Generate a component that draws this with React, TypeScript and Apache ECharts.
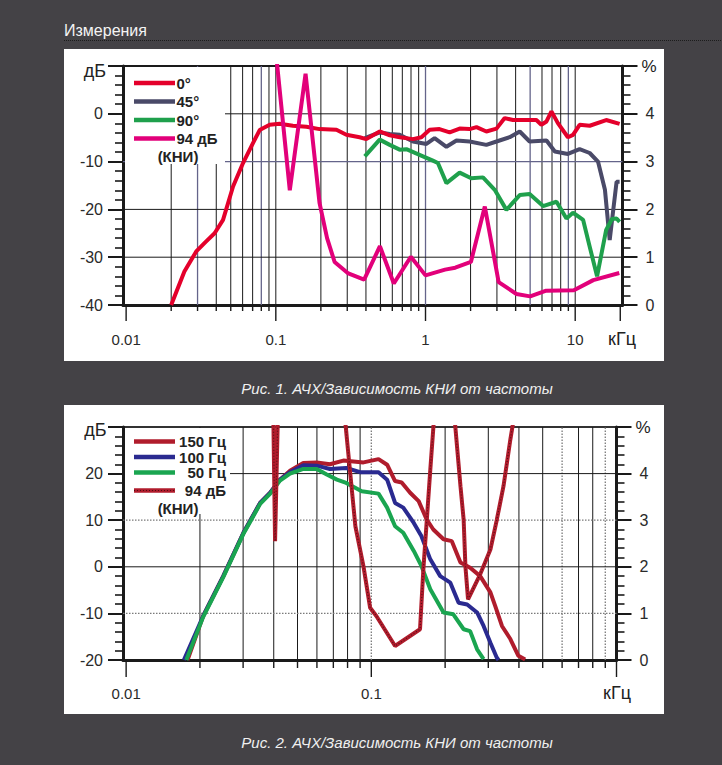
import React, { useEffect, useRef } from 'react';
import * as echarts from 'echarts';

type P = [number, number];

// ---------------- Рис. 1 : frequency [kHz], level [dB] / THD [%] ----------------
const fig1Names = ['0°', '45°', '90°', '94 дБ'];
const fig1Resp0: P[] = [
  [0.02, -40], [0.0245, -33], [0.0294, -28.8], [0.034, -26.8], [0.039, -25], [0.0444, -22.2],
  [0.0518, -15.2], [0.0604, -10.3], [0.0705, -6.1], [0.078, -3.4], [0.091, -2.3], [0.106, -2.1],
  [0.13, -2.5], [0.16, -2.7], [0.196, -3.2], [0.254, -3.35], [0.296, -4.4], [0.363, -4.9],
  [0.402, -5.3], [0.494, -3.7], [0.577, -4.5], [0.672, -4.9], [0.825, -5.3], [0.939, -4.9],
  [1.066, -3.35], [1.24, -3.2], [1.45, -3.9], [1.69, -3.1], [1.97, -3.2], [2.19, -2.8],
  [2.55, -3.7], [2.98, -3.1], [3.38, -0.9], [3.84, -1.3], [4.71, -1.3], [5.5, -1.3],
  [5.94, -2.3], [6.43, -1.6], [6.94, 0.5], [7.66, -1.95], [8.94, -4.9], [9.67, -4.4],
  [10.7, -2.3], [12.5, -2.5], [16.1, -1.3], [19.8, -2.1],
];
const fig1Resp45: P[] = [
  [0.393, -5.1], [0.494, -3.9], [0.577, -4.2], [0.672, -4.4], [0.825, -5.8], [1.014, -6.3],
  [1.15, -5.1], [1.38, -6.9], [1.61, -5.6], [1.97, -5.8], [2.55, -6.5], [2.98, -5.8],
  [3.65, -4.9], [4.26, -3.7], [4.96, -5.8], [6.43, -5.6], [7.31, -7.9], [8.94, -8.4],
  [10.7, -7.4], [12.5, -8.2], [14.2, -10], [15.8, -15.9], [17.0, -26.4], [18.9, -14.2], [19.8, -14.2],
];
const fig1Resp90: P[] = [
  [0.393, -8.9], [0.494, -5.4], [0.577, -6.5], [0.672, -7.5], [0.745, -7.4], [0.962, -8.9],
  [1.12, -9.8], [1.21, -10.3], [1.38, -14.5], [1.69, -12.3], [2.02, -13.5], [2.42, -13.3],
  [2.9, -15.9], [3.47, -20.1], [4.26, -17.0], [4.96, -16.8], [6.1, -19.3], [7.5, -18.4],
  [8.74, -21.9], [9.67, -20.7], [11.3, -22.2], [12.5, -27.8], [14.0, -34], [16.1, -24.3],
  [17.6, -22], [18.9, -21.9], [19.8, -22.6],
];
const fig1Thd: P[] = [
  [0.1, 5.3], [0.124, 2.4], [0.158, 4.84], [0.196, 2.13], [0.22, 1.4], [0.247, 0.9],
  [0.305, 0.66], [0.389, 0.53], [0.496, 1.23], [0.614, 0.45], [0.798, 1.01], [1.0, 0.62],
  [1.35, 0.74], [1.58, 0.78], [2.01, 0.9], [2.49, 2.06], [3.08, 0.48], [4.05, 0.23],
  [5.0, 0.18], [6.4, 0.3], [9.8, 0.31], [13.2, 0.52], [19.7, 0.67],
];
const fig1XLabelValues = [0.01, 0.1, 1, 10];
const fig1XLabels = ['0.01', '0.1', '1', '10'];
const fig1HLines = [0, -10, -20, -30];

// ---------------- Рис. 2 ----------------
const fig2Names = ['150 Гц', '100 Гц', '50 Гц', '94 дБ'];
const fig2Resp150: P[] = [
  [0.0178, -20], [0.0206, -10.6], [0.0249, -2], [0.0301, 7.3], [0.0352, 13.7], [0.0387, 15.9],
  [0.0424, 18.7], [0.0466, 20.6], [0.0528, 22.3], [0.0599, 22.4], [0.0678, 22.0], [0.0769, 22.8],
  [0.0929, 22.4], [0.107, 23.1], [0.116, 21.9], [0.125, 18.4], [0.133, 18.1], [0.144, 15.9],
  [0.156, 14.1], [0.168, 10.2], [0.179, 8.0], [0.197, 5.9], [0.213, 5.5], [0.231, 0.9],
  [0.253, -0.2], [0.278, -2.0], [0.306, -5.5], [0.32, -8.4], [0.341, -12.7], [0.369, -15.5],
  [0.398, -19.1], [0.424, -19.9],
];
const fig2Resp100: P[] = [
  [0.0172, -20], [0.0206, -10.6], [0.0249, -2], [0.0301, 7.3], [0.0352, 13.7], [0.0387, 15.9],
  [0.0424, 18.7], [0.0466, 20.3], [0.0528, 21.8], [0.0599, 21.7], [0.0678, 21.0], [0.079, 21.2],
  [0.09, 20.3], [0.107, 20.3], [0.116, 18.7], [0.125, 13.7], [0.135, 12.7], [0.149, 9.4],
  [0.16, 6.6], [0.174, 1.6], [0.191, -2.0], [0.21, -3.4], [0.227, -7.7], [0.246, -8.1],
  [0.27, -9.8], [0.287, -12.7], [0.306, -16.3], [0.325, -19.5], [0.33, -20],
];
const fig2Resp50: P[] = [
  [0.0176, -20], [0.0206, -10.8], [0.0249, -2.2], [0.0301, 7.1], [0.0352, 13.5], [0.0387, 15.7],
  [0.0424, 18.5], [0.0466, 20.0], [0.0528, 21.0], [0.0599, 21.0], [0.0658, 19.8], [0.0724, 18.7],
  [0.079, 18.0], [0.0914, 16.2], [0.107, 15.7], [0.116, 12.7], [0.125, 8.7], [0.135, 7.3],
  [0.149, 3.4], [0.16, 0.2], [0.174, -4.8], [0.197, -9.8], [0.216, -10.2], [0.238, -13.4],
  [0.253, -13.8], [0.27, -17.7], [0.287, -19.8],
];
const fig2Thd: P[] = [
  [0.0397, 5.8], [0.0405, 2.55], [0.0418, 5.8], [0.06, 6.5], [0.077, 5.5], [0.0861, 2.87],
  [0.0929, 2.01], [0.0989, 1.12], [0.105, 0.94], [0.125, 0.3], [0.158, 0.66], [0.163, 1.94],
  [0.174, 4.08], [0.182, 5.5], [0.2, 6.5], [0.216, 5.5], [0.231, 3.73], [0.238, 3.01],
  [0.242, 2.01], [0.248, 1.3], [0.278, 1.84], [0.306, 2.37], [0.325, 3.01], [0.346, 3.73],
  [0.369, 4.73], [0.39, 5.5],
];
const fig2XLabelValues = [0.01, 0.1];
const fig2XLabels = ['0.01', '0.1'];
const fig2HLines = [20, 10, 0, -10];

const pageTitle = 'Измерения';
const caption1 = 'Рис. 1. АЧХ/Зависимость КНИ от частоты';
const caption2 = 'Рис. 2. АЧХ/Зависимость КНИ от частоты';
const unitX = 'кГц';
const unitDb = 'дБ';
const unitPct = '%';
const thdNote = '(КНИ)';

// ---------------- styling ----------------
const FONT = '"Liberation Sans", Arial, sans-serif';
const BG = '#444246';
const INK = '#1a1a1a';
const C1 = ['#e4002b', '#4a4a68', '#1fa04c', '#e2007a'];
const C2 = ['#b01c2c', '#2a2a90', '#1aa550', '#b01c2c'];

const X1_MIN = 0.00953, X1_MAX = 20.7;
const X2_MIN = 0.00971, X2_MAX = 1.0;

interface VTick { f: number; grid: boolean; long: boolean; label: string; grey: boolean }
const near = (a: number, b: number) => Math.abs(a - b) < 1e-9 * Math.max(1, Math.abs(b));

function makeVTicks(decades: number[], maxF: number, labelVals: number[], labels: string[],
  greyVals: number[], noGridVals: number[], longVals: number[]): VTick[] {
  const out: VTick[] = [];
  for (const d of decades) {
    for (let m = 1; m <= 9; m++) {
      const f = +(d * m).toPrecision(6);
      if (f > maxF * 1.0001) continue;
      const li = labelVals.findIndex((v) => near(v, f));
      out.push({
        f,
        grid: !noGridVals.some((v) => near(v, f)),
        long: m === 1 || longVals.some((v) => near(v, f)),
        label: li >= 0 ? labels[li] : '',
        grey: greyVals.some((v) => near(v, f)),
      });
    }
  }
  return out;
}

function vGridSeries(xi: number, yi: number, ticks: VTick[], yMin: number, yMax: number,
  greyColor: string, greyDash: number[] | undefined, labelDy: number, longLen: number, shortLen: number) {
  return {
    type: 'custom', coordinateSystem: 'cartesian2d', xAxisIndex: xi, yAxisIndex: yi,
    silent: true, z: 1, clip: false,
    data: ticks.map((t) => [t.f, yMin]),
    encode: { x: 0, y: 1 },
    renderItem: (params: any, api: any) => {
      const t = ticks[params.dataIndex];
      const b = api.coord([t.f, yMin]);
      const top = api.coord([t.f, yMax]);
      const children: any[] = [];
      if (t.grid) {
        children.push({
          type: 'line', shape: { x1: b[0], y1: b[1], x2: top[0], y2: top[1] },
          style: { stroke: t.grey ? greyColor : INK, lineWidth: t.grey ? 1.3 : 1, lineDash: t.grey ? greyDash : undefined },
        });
      }
      children.push({
        type: 'line', shape: { x1: b[0], y1: b[1], x2: b[0], y2: b[1] + (t.long ? longLen : shortLen) },
        style: { stroke: INK, lineWidth: 1.4 },
      });
      if (t.label) {
        children.push({
          type: 'text', x: b[0], y: b[1] + labelDy,
          style: { text: t.label, textAlign: 'center', textVerticalAlign: 'middle', fill: '#2a2a2a', font: `15px ${FONT}` },
        });
      }
      return { type: 'group', children };
    },
  };
}

function hGridSeries(xi: number, yi: number, vals: number[], greyVals: number[], xMin: number, xMax: number,
  greyColor: string, greyDash: number[] | undefined) {
  return {
    type: 'custom', coordinateSystem: 'cartesian2d', xAxisIndex: xi, yAxisIndex: yi,
    silent: true, z: 1, clip: false,
    data: vals.map((v) => [xMin, v]),
    encode: { x: 0, y: 1 },
    renderItem: (params: any, api: any) => {
      const v = vals[params.dataIndex];
      const a = api.coord([xMin, v]);
      const b = api.coord([xMax, v]);
      const grey = greyVals.includes(v);
      return {
        type: 'line', shape: { x1: a[0], y1: a[1], x2: b[0], y2: b[1] },
        style: { stroke: grey ? greyColor : INK, lineWidth: grey ? 1.3 : 1, lineDash: grey ? greyDash : undefined },
      };
    },
  };
}

function yAxisLeft(gi: number, min: number, max: number) {
  return {
    type: 'value', gridIndex: gi, position: 'left', min, max, interval: 10,
    axisLine: { show: true, onZero: false, lineStyle: { color: INK, width: 3 } },
    axisTick: { show: true, length: 15, lineStyle: { color: INK, width: 2 } },
    minorTick: { show: true, splitNumber: 5, length: 8, lineStyle: { color: INK, width: 1.6 } },
    splitLine: { show: false },
    axisLabel: {
      margin: 20, color: '#2a2a2a', fontSize: 16, fontFamily: FONT,
      formatter: (v: number) => (v === max ? '' : String(v)),
    },
  };
}
function yAxisRight(gi: number) {
  return {
    type: 'value', gridIndex: gi, position: 'right', min: 0, max: 5, interval: 1,
    axisLine: { show: true, onZero: false, lineStyle: { color: INK, width: 3 } },
    axisTick: { show: true, length: 15, lineStyle: { color: INK, width: 2 } },
    minorTick: { show: true, splitNumber: 5, length: 8, lineStyle: { color: INK, width: 1.6 } },
    splitLine: { show: false },
    axisLabel: {
      margin: 23, color: '#2a2a2a', fontSize: 16, fontFamily: FONT,
      formatter: (v: number) => (v === 5 ? '' : String(v)),
    },
  };
}
function xAxisLog(gi: number, min: number, max: number) {
  return {
    type: 'log', logBase: 10, gridIndex: gi, min, max, position: 'bottom',
    axisLine: { show: true, onZero: false, lineStyle: { color: INK, width: 3 } },
    axisTick: { show: false }, axisLabel: { show: false }, splitLine: { show: false },
    minorTick: { show: false }, minorSplitLine: { show: false },
  };
}
function line(name: string, xi: number, yi: number, data: P[], color: string, z: number, width = 4, dash?: any) {
  return {
    type: 'line', name, xAxisIndex: xi, yAxisIndex: yi, data, symbol: 'none', showSymbol: false,
    clip: true, z, silent: true,
    lineStyle: { color, width, type: dash || 'solid' }, itemStyle: { color },
  };
}

function legendGraphic(x0: number, y0: number, w: number, h: number,
  rows: { text: string; color: string; y: number; dotted?: boolean }[],
  textX: number, align: string, noteY: number) {
  const els: any[] = [
    { type: 'rect', z: 100, shape: { x: x0, y: y0, width: w, height: h }, style: { fill: '#ffffff' } },
  ];
  rows.forEach((r) => {
    els.push({ type: 'line', z: 101, shape: { x1: 134, y1: r.y, x2: 175, y2: r.y }, style: { stroke: r.color, lineWidth: 4.5 } });
    if (r.dotted) {
      els.push({ type: 'line', z: 102, shape: { x1: 134, y1: r.y, x2: 175, y2: r.y }, style: { stroke: 'rgba(0,0,0,0.55)', lineWidth: 1.2, lineDash: [1, 2] } });
    }
    els.push({
      type: 'text', z: 101, x: textX, y: r.y,
      style: { text: r.text, fill: '#222', font: `bold 15px ${FONT}`, textAlign: align, textVerticalAlign: 'middle' },
    });
  });
  els.push({
    type: 'text', z: 101, x: 178, y: noteY,
    style: { text: thdNote, fill: '#222', font: `bold 15px ${FONT}`, textAlign: 'center', textVerticalAlign: 'middle' },
  });
  return els;
}

function buildOption() {
  const ticks1 = makeVTicks([0.01, 0.1, 1, 10], 20.0, fig1XLabelValues, fig1XLabels,
    [0.03, 0.08, 1, 5, 9], [0.01, 20], [20]);
  const ticks2 = makeVTicks([0.01, 0.1, 1], 1.0, fig2XLabelValues, fig2XLabels,
    [0.1, 0.6, 0.9], [0.01, 1], []);

  const txt = (x: number, y: number, text: string, font: string, fill: string, align = 'center') => ({
    type: 'text', z: 50, x, y,
    style: { text, font, fill, textAlign: align, textVerticalAlign: 'middle' },
  });

  const graphics: any[] = [
    { type: 'rect', z: -10, shape: { x: 64, y: 49, width: 600, height: 312 }, style: { fill: '#ffffff' } },
    { type: 'rect', z: -10, shape: { x: 64, y: 405, width: 600, height: 309 }, style: { fill: '#ffffff' } },
    txt(64, 30, pageTitle, `16px ${FONT}`, '#f4f4f4', 'left'),
    { type: 'line', z: 50, shape: { x1: 64, y1: 40.5, x2: 722, y2: 40.5 }, style: { stroke: '#1c1c1c', lineWidth: 1, lineDash: [1, 1] } },
    txt(397, 388, caption1, `italic 15px ${FONT}`, '#f0f0f0'),
    txt(397, 742, caption2, `italic 15px ${FONT}`, '#f0f0f0'),
    // unit labels
    txt(95, 71, unitDb, `18px ${FONT}`, '#222'),
    txt(649, 66, unitPct, `17px ${FONT}`, '#222'),
    txt(622, 339, unitX, `18px ${FONT}`, '#222'),
    txt(95.5, 430, unitDb, `18px ${FONT}`, '#222'),
    txt(643, 427, unitPct, `17px ${FONT}`, '#222'),
    txt(617, 693, unitX, `18px ${FONT}`, '#222'),
    ...legendGraphic(125, 67, 100, 97, [
      { text: fig1Names[0], color: C1[0], y: 83 },
      { text: fig1Names[1], color: C1[1], y: 101.5 },
      { text: fig1Names[2], color: C1[2], y: 120 },
      { text: fig1Names[3], color: C1[3], y: 138.5 },
    ], 176.5, 'left', 156),
    ...legendGraphic(125, 428, 105, 86, [
      { text: fig2Names[0], color: C2[0], y: 441.5 },
      { text: fig2Names[1], color: C2[1], y: 457 },
      { text: fig2Names[2], color: C2[2], y: 472.5 },
      { text: fig2Names[3], color: C2[3], y: 490.5, dotted: true },
    ], 226, 'right', 508),
  ];

  return {
    animation: false,
    backgroundColor: BG,
    grid: [
      { left: 123, top: 66, width: 499.5, height: 239, show: true, borderColor: INK, borderWidth: 2, backgroundColor: 'transparent' },
      { left: 123, top: 427, width: 493.5, height: 233, show: true, borderColor: '#333', borderWidth: 2, backgroundColor: 'transparent' },
    ],
    xAxis: [xAxisLog(0, X1_MIN, X1_MAX), xAxisLog(1, X2_MIN, X2_MAX)],
    yAxis: [yAxisLeft(0, -40, 10), yAxisRight(0), yAxisLeft(1, -20, 30), yAxisRight(1)],
    series: [
      vGridSeries(0, 0, ticks1, -40, 10, '#64648a', undefined, 34, 16, 6),
      hGridSeries(0, 0, fig1HLines, [-10], X1_MIN, X1_MAX, '#64648a', undefined),
      line(fig1Names[1], 0, 0, fig1Resp45, C1[1], 3),
      line(fig1Names[2], 0, 0, fig1Resp90, C1[2], 4),
      line(fig1Names[0], 0, 0, fig1Resp0, C1[0], 5),
      line(fig1Names[3], 0, 1, fig1Thd, C1[3], 6),

      vGridSeries(1, 2, ticks2, -20, 30, '#7a7a7a', [1.5, 1.5], 33, 17, 8),
      hGridSeries(1, 2, fig2HLines, [10, -10], X2_MIN, X2_MAX, '#7a7a7a', [1.5, 1.5]),
      line(fig2Names[0], 1, 2, fig2Resp150, C2[0], 3),
      line(fig2Names[1], 1, 2, fig2Resp100, C2[1], 4),
      line(fig2Names[2], 1, 2, fig2Resp50, C2[2], 5),
      line(fig2Names[3], 1, 3, fig2Thd, C2[3], 6),
      line(fig2Names[3] + ' ', 1, 3, fig2Thd, 'rgba(0,0,0,0.5)', 7, 1.2, [1, 2]),
    ],
    graphic: { elements: graphics },
  };
}

export default function App() {
  const ref = useRef<HTMLDivElement>(null);
  useEffect(() => {
    if (!ref.current) return;
    const chart = echarts.init(ref.current, null, { renderer: 'svg', width: 722, height: 765 });
    chart.setOption(buildOption() as any);
    return () => chart.dispose();
  }, []);
  return <div ref={ref} style={{ position: 'absolute', left: 0, top: 0, width: 722, height: 765 }} />;
}
